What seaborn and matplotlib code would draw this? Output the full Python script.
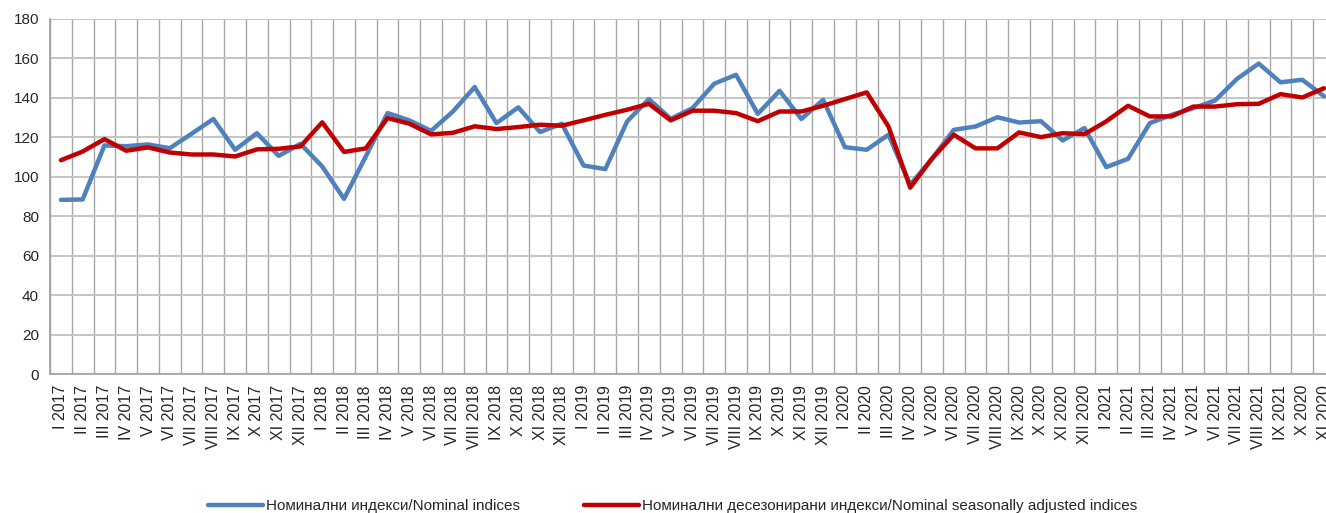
import pandas as pd
import matplotlib
matplotlib.use("Agg")
import matplotlib.pyplot as plt
import seaborn as sns
from matplotlib.ticker import FixedLocator

# Month labels (as printed in the source, incl. the "2020" typo at the end)
labels = [
    "I 2017", "II 2017", "III 2017", "IV 2017", "V 2017", "VI 2017",
    "VII 2017", "VIII 2017", "IX 2017", "X 2017", "XI 2017", "XII 2017",
    "I 2018", "II 2018", "III 2018", "IV 2018", "V 2018", "VI 2018",
    "VII 2018", "VIII 2018", "IX 2018", "X 2018", "XI 2018", "XII 2018",
    "I 2019", "II 2019", "III 2019", "IV 2019", "V 2019", "VI 2019",
    "VII 2019", "VIII 2019", "IX 2019", "X 2019", "XI 2019", "XII 2019",
    "I 2020", "II 2020", "III 2020", "IV 2020", "V 2020", "VI 2020",
    "VII 2020", "VIII 2020", "IX 2020", "X 2020", "XI 2020", "XII 2020",
    "I 2021", "II 2021", "III 2021", "IV 2021", "V 2021", "VI 2021",
    "VII 2021", "VIII 2021", "IX 2021", "X 2020", "XI 2020",
]

nominal = [
    88.3, 88.5, 115.9, 115.5, 116.4, 114.5, 121.8, 129.3, 113.7, 122.1, 110.6, 116.7,
    105.2, 88.8, 110.3, 132.3, 128.6, 123.3, 133.1, 145.5, 127.2, 135.2, 122.7, 126.9,
    105.7, 103.9, 128.1, 139.4, 129.4, 134.8, 147.2, 151.7, 131.9, 143.6, 129.3, 139.0,
    115.0, 113.7, 121.3, 96.0, 109.2, 123.8, 125.5, 130.2, 127.5, 128.2, 118.4, 124.7,
    104.9, 109.1, 127.2, 131.4, 134.8, 138.7, 149.6, 157.4, 147.9, 149.2, 140.8,
]

seasonal = [
    108.4, 112.8, 119.1, 113.2, 114.9, 112.3, 111.3, 111.3, 110.3, 113.9, 114.2, 115.4,
    127.6, 112.6, 114.4, 129.8, 126.9, 121.5, 122.3, 125.6, 124.2, 125.2, 126.4, 125.9,
    128.6, 131.4, 134.0, 137.0, 128.6, 133.5, 133.5, 132.3, 128.2, 133.1, 133.1, 136.0,
    139.4, 142.8, 125.5, 94.5, 109.2, 121.3, 114.4, 114.4, 122.5, 120.1, 122.1, 121.6,
    128.1, 136.0, 130.6, 130.6, 135.6, 135.6, 136.8, 137.0, 141.9, 140.2, 144.9,
]

name_nom = "Номинални индекси/Nominal indices"
name_sa = "Номинални десезонирани индекси/Nominal seasonally adjusted indices"

df = pd.DataFrame({
    "idx": list(range(len(labels))) * 2,
    "value": nominal + seasonal,
    "series": [name_nom] * len(labels) + [name_sa] * len(labels),
})

sns.set_style("white")
plt.rcParams["font.family"] = ["Liberation Sans", "DejaVu Sans"]

fig = plt.figure(figsize=(13.26, 5.13), dpi=100)
ax = fig.add_axes([50 / 1326, 139 / 513, 1276 / 1326, 355 / 513])

sns.lineplot(
    data=df, x="idx", y="value", hue="series",
    palette={name_nom: "#4F81BD", name_sa: "#C00000"},
    linewidth=3.2, ax=ax, legend=True,
)

n = len(labels)
ax.set_xlim(-0.5, 58.09)
ax.set_ylim(0, 180)
ax.set_yticks(range(0, 181, 20))
ax.tick_params(axis="y", labelsize=11, length=4, color="#A0A0A0", pad=4)

# category boundaries carry the tick marks and vertical grid
ax.xaxis.set_major_locator(FixedLocator(range(n)))
ax.set_xticklabels(labels, rotation=90, fontsize=11.5)
ax.xaxis.set_minor_locator(FixedLocator([i - 0.5 for i in range(n + 1)]))
ax.tick_params(axis="x", which="major", length=0, pad=8)
ax.tick_params(axis="x", which="minor", length=5, color="#A0A0A0", width=1)
ax.grid(which="minor", axis="x", color="#A6A6A6", linewidth=1)
ax.grid(which="major", axis="y", color="#C4C4C4", linewidth=1.4)
ax.grid(which="major", axis="x", visible=False)
ax.set_axisbelow(True)

ax.set_xlabel("")
ax.set_ylabel("")
for side in ["top", "right"]:
    ax.spines[side].set_visible(False)
for side in ["left", "bottom"]:
    ax.spines[side].set_color("#A0A0A0")
    ax.spines[side].set_linewidth(1.2)

ax.legend_.remove()
handles, lbls = ax.get_legend_handles_labels()
fig.legend(
    handles, lbls, loc="center", bbox_to_anchor=(0.507, 0.013),
    ncol=2, frameon=False, fontsize=11, handlelength=3.6,
    handletextpad=0.2, columnspacing=4.2,
)

fig.savefig("out.png", dpi=100)
